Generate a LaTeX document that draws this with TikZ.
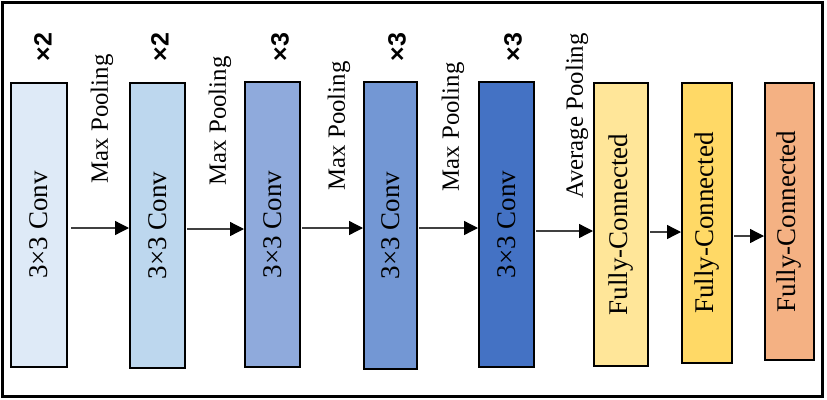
\documentclass[tikz,border=0pt]{standalone}
\usepackage{fontspec}
\setmainfont{Liberation Serif}
\newfontfamily\lsans{Liberation Sans}
\usetikzlibrary{arrows.meta}
\definecolor{cA}{HTML}{DEEAF7}
\definecolor{cB}{HTML}{BDD7EE}
\definecolor{cC}{HTML}{8FAADC}
\definecolor{cD}{HTML}{7397D4}
\definecolor{cE}{HTML}{4472C4}
\definecolor{cF}{HTML}{FFE699}
\definecolor{cG}{HTML}{FFD966}
\definecolor{cH}{HTML}{F4B183}
\definecolor{arrc}{HTML}{404040}
\tikzset{
  layerbox/.style={draw=black, line width=2pt, inner sep=0pt, minimum width=55pt},
  boxtext/.style={rotate=90, font=\fontsize{27}{27}\selectfont, inner sep=0pt},
  optext/.style={rotate=90, font=\fontsize{24.8}{25}\selectfont, inner sep=0pt},
  reptext/.style={rotate=90, font=\lsans\bfseries\fontsize{25}{25}\selectfont, inner sep=0pt},
  arr/.style={draw=arrc, line width=1.3pt, -{Triangle[length=14pt,width=14pt,color=black]}},
}
\begin{document}
\begin{tikzpicture}[x=1pt,y=-1pt]
\useasboundingbox (0,0) rectangle (827,399);
\draw[line width=2.5pt] (2.5,2.5) rectangle (822.5,396.5);
% boxes
\node[layerbox, fill=cA, minimum width=56pt, minimum height=284pt] (b1) at (39,225) {};
\node[layerbox, fill=cB, minimum width=55pt, minimum height=285pt] (b2) at (157.5,225.5) {};
\node[layerbox, fill=cC, minimum width=55pt, minimum height=285pt] (b3) at (272.5,224.5) {};
\node[layerbox, fill=cD, minimum width=53pt, minimum height=287pt] (b4) at (390.5,225.5) {};
\node[layerbox, fill=cE, minimum width=55pt, minimum height=285pt] (b5) at (506.5,224.5) {};
\node[layerbox, fill=cF, minimum width=54pt, minimum height=283pt] (b6) at (621,224.5) {};
\node[layerbox, fill=cG, minimum width=50pt, minimum height=280pt] (b7) at (707,223) {};
\node[layerbox, fill=cH, minimum width=49pt, minimum height=277pt] (b8) at (789.5,221.5) {};
% box texts
\node[boxtext] (t1) at (b1.center) {3×3 Conv};
\node[boxtext] (t2) at (b2.center) {3×3 Conv};
\node[boxtext] (t3) at (b3.center) {3×3 Conv};
\node[boxtext] (t4) at (b4.center) {3×3 Conv};
\node[boxtext] (t5) at (b5.center) {3×3 Conv};
\node[boxtext] (t6) at (b6.center) {Fully-Connected};
\node[boxtext] (t7) at (b7.center) {Fully-Connected};
\node[boxtext] (t8) at (b8.center) {Fully-Connected};
% repeat labels
\node[reptext] (r1) at (43,47) {×2};
\node[reptext] (r2) at (160,47) {×2};
\node[reptext] (r3) at (280,47) {×3};
\node[reptext] (r4) at (397,47) {×3};
\node[reptext] (r5) at (513,47) {×3};
% pooling labels
\node[optext] (p1) at (102,119) {Max Pooling};
\node[optext] (p2) at (220,121) {Max Pooling};
\node[optext] (p3) at (339,126) {Max Pooling};
\node[optext] (p4) at (453,127) {Max Pooling};
\node[optext] (p5) at (577,116) {Average Pooling};
% arrows
\draw[arr] ([xshift=3pt]b1.east |- 0,228) -- (b2.west |- 0,228);
\draw[arr] ([xshift=1pt]b2.east |- 0,229) -- (b3.west |- 0,229);
\draw[arr] ([xshift=1pt]b3.east |- 0,228) -- (b4.west |- 0,228);
\draw[arr] ([xshift=1pt]b4.east |- 0,228) -- (b5.west |- 0,228);
\draw[arr] ([xshift=1pt]b5.east |- 0,231) -- (b6.west |- 0,231);
\draw[arr] ([xshift=1pt]b6.east |- 0,232) -- (b7.west |- 0,232);
\draw[arr] ([xshift=1pt]b7.east |- 0,236) -- (b8.west |- 0,236);
\end{tikzpicture}
\end{document}
